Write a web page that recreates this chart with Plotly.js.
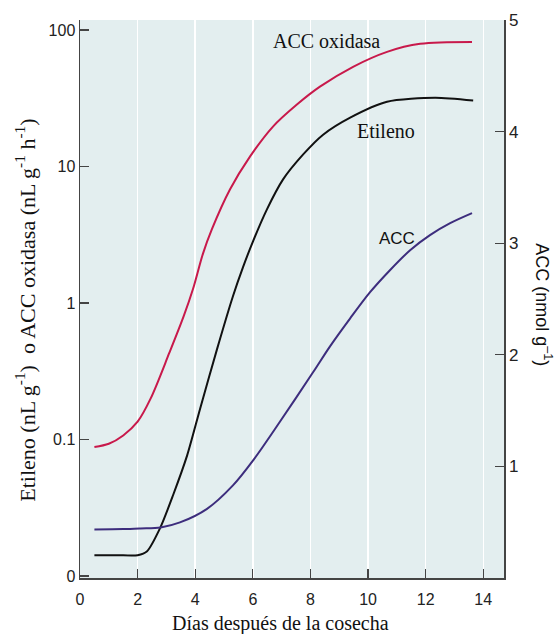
<!DOCTYPE html>
<html>
<head>
<meta charset="utf-8">
<script src="https://cdn.plot.ly/plotly-3.0.1.min.js"></script>
<style>html,body{margin:0;padding:0;background:#fff;}#chart{width:555px;height:634px;}</style>
</head>
<body>
<div id="chart"></div>
<script>
// ACC oxidasa (left log axis, nL g-1 h-1)
const diasOxidasa = [0.5, 1.0, 1.5, 2.0, 2.45, 3.1, 3.6, 3.92, 4.27, 4.58, 5.21, 5.9, 6.7, 7.53, 8.33, 9.48, 10.66, 11.81, 13.61];
const accOxidasa  = [0.088, 0.093, 0.107, 0.135, 0.199, 0.43, 0.80, 1.26, 2.3, 3.47, 6.8, 11.8, 19.6, 28.4, 38.4, 53.7, 69.1, 79.1, 81.7];

// Etileno (left log axis, nL g-1)
const diasEtileno = [0.5, 1.3, 2.0, 2.33, 2.78, 3.23, 3.72, 4.17, 4.76, 5.31, 5.66, 6.01, 6.49, 7.05, 7.74, 8.44, 9.38, 10.66, 12.33, 13.65];
const etileno     = [0.0142, 0.0142, 0.0142, 0.0152, 0.0224, 0.039, 0.0764, 0.168, 0.461, 1.12, 1.83, 2.84, 4.85, 8.04, 12.2, 17.1, 22.8, 29.8, 31.9, 30.4];

// ACC (right linear axis, nmol g-1)
const diasACC = [0.5, 1.5, 2.1, 2.8, 3.47, 4.41, 5.31, 6.01, 6.94, 8.09, 8.68, 9.38, 10.07, 10.76, 11.46, 12.15, 12.85, 13.61];
const acc     = [0.435, 0.438, 0.444, 0.453, 0.498, 0.62, 0.830, 1.054, 1.40, 1.843, 2.076, 2.327, 2.561, 2.758, 2.937, 3.072, 3.179, 3.269];

const xTicks = [0, 2, 4, 6, 8, 10, 12, 14];
const yLeftTickVals = [0.01, 0.1, 1, 10, 100];
const yLeftTickText = ['0', '0.1', '1', '10', '100'];
const yRightTicks = [1, 2, 3, 4, 5];

const sans = 'Liberation Sans, Arial, sans-serif';
const serif = 'Liberation Serif, Times New Roman, serif';
const axisCol = '#444';

const traces = [
  {x: diasOxidasa, y: accOxidasa, mode: 'lines', line: {color: '#c8194b', width: 2, shape: 'spline', smoothing: 0.9}, yaxis: 'y', hoverinfo: 'skip'},
  {x: diasEtileno, y: etileno, mode: 'lines', line: {color: '#111111', width: 2, shape: 'spline', smoothing: 0.7}, yaxis: 'y', hoverinfo: 'skip'},
  {x: diasACC, y: acc, mode: 'lines', line: {color: '#3d2d7d', width: 2, shape: 'spline', smoothing: 0.9}, yaxis: 'y2', hoverinfo: 'skip'}
];

function ann(text, x, y, font, angle) {
  const a = {text: text, xref: 'paper', yref: 'paper', x: x, y: y, xanchor: 'center', yanchor: 'middle', showarrow: false, font: font};
  if (angle !== undefined) a.textangle = angle;
  return a;
}

const layout = {
  width: 555, height: 634,
  margin: {l: 80, r: 51, t: 20, b: 56},
  paper_bgcolor: '#ffffff',
  plot_bgcolor: '#e3eeef',
  showlegend: false,
  xaxis: {
    range: [0, 14.72], tickvals: xTicks, ticktext: xTicks.map(String),
    ticks: 'inside', ticklen: 9, tickwidth: 1.3, tickcolor: axisCol,
    showline: true, linecolor: axisCol, linewidth: 1.5,
    showgrid: true, gridcolor: '#ffffff', gridwidth: 1.5, zeroline: false,
    tickfont: {family: sans, size: 16, color: '#222'}, ticklabelstandoff: 6
  },
  yaxis: {
    type: 'log', range: [-2.015, 2.073],
    tickvals: yLeftTickVals, ticktext: yLeftTickText,
    ticks: 'inside', ticklen: 9, tickwidth: 1.3, tickcolor: axisCol,
    showline: true, linecolor: axisCol, linewidth: 1.5,
    showgrid: false, zeroline: false,
    tickfont: {family: sans, size: 16, color: '#222'}
  },
  yaxis2: {
    overlaying: 'y', side: 'right', range: [0, 5],
    tickvals: yRightTicks, ticktext: yRightTicks.map(String),
    ticks: 'inside', ticklen: 9, tickwidth: 1.3, tickcolor: axisCol,
    showline: true, linecolor: axisCol, linewidth: 1.5,
    showgrid: false, zeroline: false,
    tickfont: {family: sans, size: 17, color: '#222'}
  },
  annotations: [
    ann('ACC oxidasa', 0.5825, 0.962, {family: serif, size: 20, color: '#111'}),
    ann('Etileno', 0.7217, 0.801, {family: serif, size: 20, color: '#111'}),
    ann('ACC', 0.7476, 0.609, {family: sans, size: 17, color: '#111'}),
    ann('Días después de la cosecha', 0.474, -0.0824, {family: serif, size: 20, color: '#111'}),
    ann('Etileno (nL g<sup>-1</sup>)  o ACC oxidasa (nL g<sup>-1</sup> h<sup>-1</sup>)', -0.1297, 0.479, {family: serif, size: 22, color: '#111'}, -90),
    ann('ACC (nmol g<sup>–1</sup>)', 1.094, 0.489, {family: sans, size: 18, color: '#111'}, 90)
  ]
};

Plotly.newPlot('chart', traces, layout, {staticPlot: true, displayModeBar: false});
</script>
</body>
</html>
